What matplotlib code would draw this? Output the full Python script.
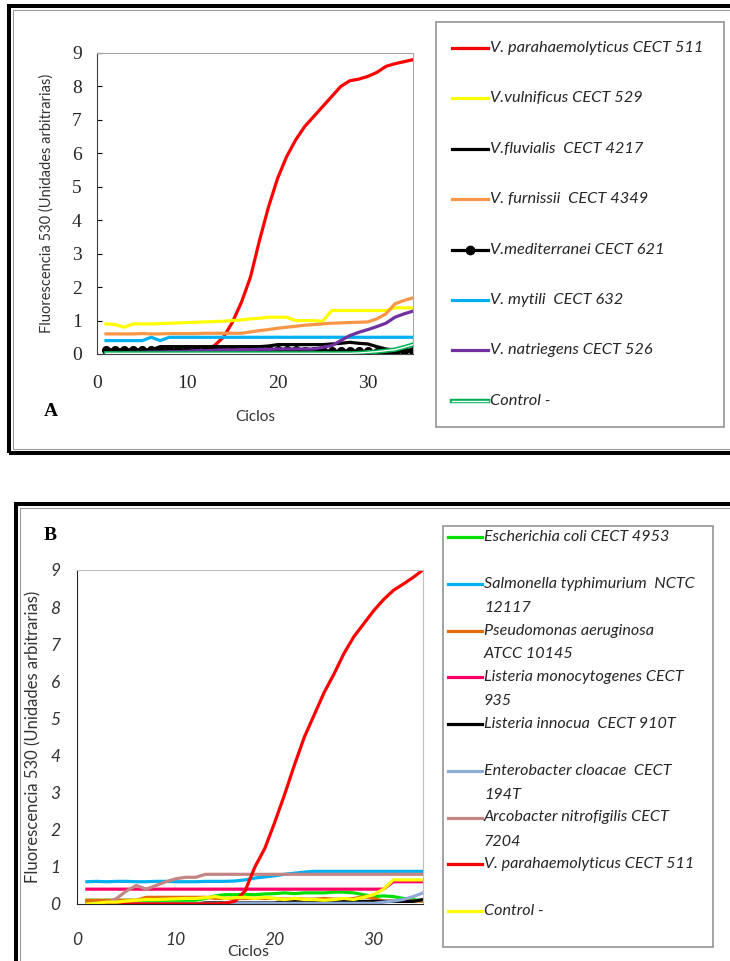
import numpy as np
import matplotlib
matplotlib.use("Agg")
import matplotlib.pyplot as plt
from matplotlib.lines import Line2D
from matplotlib.patches import Rectangle
import matplotlib.patheffects as pe

W, H = 730, 961

# ---------------- data: panel A (Vibrio species) ----------------
ciclos = list(range(1, 36))

a_parahaemolyticus = [0.02, 0.02, 0.02, 0.02, 0.02, 0.03, 0.03, 0.03, 0.04, 0.05, 0.06,
                      0.12, 0.25, 0.5, 0.95, 1.55, 2.3, 3.4, 4.4, 5.25, 5.9, 6.4, 6.8,
                      7.1, 7.4, 7.7, 8.0, 8.17, 8.22, 8.3, 8.42, 8.6, 8.68, 8.74, 8.8]
a_vulnificus = [0.9, 0.88, 0.8, 0.9, 0.9, 0.9, 0.91, 0.92, 0.93, 0.94, 0.95, 0.96, 0.97,
                0.98, 1.0, 1.02, 1.05, 1.07, 1.1, 1.1, 1.1, 1.0, 1.0, 1.0, 0.98, 1.3,
                1.3, 1.3, 1.3, 1.3, 1.3, 1.3, 1.38, 1.38, 1.38]
a_fluvialis = [0.12, 0.12, 0.12, 0.12, 0.12, 0.12, 0.22, 0.22, 0.22, 0.22, 0.22, 0.22,
               0.22, 0.22, 0.22, 0.22, 0.22, 0.22, 0.24, 0.28, 0.28, 0.28, 0.28, 0.28,
               0.28, 0.3, 0.32, 0.35, 0.32, 0.3, 0.22, 0.15, 0.12, 0.12, 0.12]
a_furnissii = [0.6, 0.6, 0.6, 0.6, 0.61, 0.6, 0.6, 0.61, 0.61, 0.61, 0.61, 0.62, 0.62,
               0.62, 0.62, 0.62, 0.66, 0.7, 0.73, 0.77, 0.8, 0.83, 0.86, 0.88, 0.9,
               0.92, 0.93, 0.94, 0.95, 0.96, 1.05, 1.2, 1.5, 1.6, 1.68]
a_mediterranei = [0.12, 0.12, 0.12, 0.12, 0.12, 0.12, 0.12, 0.12, 0.12, 0.12, 0.12,
                  0.12, 0.12, 0.12, 0.12, 0.12, 0.12, 0.12, 0.12, 0.12, 0.12, 0.12,
                  0.1, 0.1, 0.1, 0.08, 0.08, 0.1, 0.08, 0.08, 0.06, 0.06, 0.06, 0.08, 0.1]
a_mytili = [0.4, 0.4, 0.4, 0.4, 0.4, 0.5, 0.4] + [0.5] * 28
a_natriegens = [0.03, 0.04, 0.04, 0.05, 0.05, 0.06, 0.06, 0.07, 0.07, 0.08, 0.1, 0.1,
                0.11, 0.12, 0.12, 0.13, 0.13, 0.14, 0.14, 0.15, 0.15, 0.15, 0.15, 0.15,
                0.2, 0.25, 0.4, 0.55, 0.65, 0.73, 0.82, 0.92, 1.1, 1.2, 1.28]
a_control = [0.02] * 28 + [0.03, 0.05, 0.07, 0.1, 0.13, 0.2, 0.28]

# ---------------- data: panel B (other bacteria) ----------------
b_ecoli = [0.1] * 12 + [0.15, 0.22, 0.25, 0.25, 0.26, 0.25, 0.27, 0.28, 0.3, 0.28, 0.3,
                        0.3, 0.3, 0.32, 0.32, 0.3, 0.25, 0.2, 0.22, 0.2, 0.15, 0.12, 0.08]
b_salmonella = [0.6, 0.61, 0.6, 0.61, 0.61, 0.6, 0.6, 0.61, 0.61, 0.6, 0.6, 0.6, 0.61,
                0.61, 0.61, 0.62, 0.65, 0.7, 0.73, 0.76, 0.8, 0.83, 0.86] + [0.88] * 12
b_pseudomonas = [0.1] * 6 + [0.18] * 7 + [0.15] * 7 + [0.13, 0.15, 0.13, 0.13, 0.15,
                                                      0.13, 0.13, 0.15, 0.2, 0.15, 0.08,
                                                      0.08, 0.08, 0.08, 0.08]
b_monocytogenes = [0.4] * 31 + [0.6] * 4
b_innocua = [0.0] * 12 + [0.03] * 8 + [0.07] * 14 + [0.12]
b_enterobacter = [0.0] * 14 + [0.02] * 16 + [0.05, 0.08, 0.12, 0.2, 0.3]
b_arcobacter = [0.0, 0.0, 0.02, 0.15, 0.35, 0.5, 0.4, 0.5, 0.6, 0.68, 0.72, 0.72] + [0.8] * 23
b_parahaemolyticus = [0.0] * 14 + [0.02, 0.08, 0.35, 1.0, 1.5, 2.2, 2.95, 3.75, 4.5, 5.1,
                                   5.7, 6.2, 6.75, 7.2, 7.55, 7.9, 8.2, 8.45, 8.62, 8.8, 9.0]
b_control = [0.0, 0.02, 0.05, 0.05, 0.08, 0.1, 0.12, 0.12, 0.13, 0.14, 0.15, 0.15, 0.17,
             0.2, 0.15, 0.17, 0.18, 0.15, 0.18, 0.15, 0.12, 0.15, 0.12, 0.12, 0.1, 0.12,
             0.15, 0.12, 0.18, 0.25, 0.4, 0.65, 0.65, 0.65, 0.65]

labels_a = ["V. parahaemolyticus CECT 511", "V.vulnificus CECT 529",
            "V.fluvialis  CECT 4217", "V. furnissii  CECT 4349",
            "V.mediterranei CECT 621", "V. mytili  CECT 632",
            "V. natriegens CECT 526", "Control -"]
labels_b = ["Escherichia coli CECT 4953", "Salmonella typhimurium  NCTC\n12117",
            "Pseudomonas aeruginosa\nATCC 10145", "Listeria monocytogenes CECT\n935",
            "Listeria innocua  CECT 910T", "Enterobacter cloacae  CECT\n194T",
            "Arcobacter nitrofigilis CECT\n7204", "V. parahaemolyticus CECT 511",
            "Control -"]

x_ticks = [0, 10, 20, 30]
y_ticks = list(range(0, 10))

SANS = ["Lato", "DejaVu Sans"]
SERIF = ["Liberation Serif", "DejaVu Serif"]


def fx(px):
    return px / W


def fy(py):
    return 1 - py / H


fig = plt.figure(figsize=(W / 100, H / 100), dpi=100)
fig.patch.set_facecolor("white")

# ---------------- panel frames ----------------
fig.add_artist(Rectangle((fx(9), fy(453)), fx(760), (453 - 6) / H, transform=fig.transFigure,
                         fill=False, lw=2.9, ec="black"))
fig.add_artist(Rectangle((fx(13), fy(449)), fx(760), (449 - 10) / H, transform=fig.transFigure,
                         fill=False, lw=0.8, ec="#9a9a9a"))
fig.add_artist(Rectangle((fx(16), fy(1000)), fx(760), (1000 - 504) / H, transform=fig.transFigure,
                         fill=False, lw=2.9, ec="black"))
fig.add_artist(Rectangle((fx(20), fy(1000)), fx(760), (1000 - 508) / H, transform=fig.transFigure,
                         fill=False, lw=0.8, ec="#9a9a9a"))

LW = 2.3

# ---------------- panel A ----------------
axA = fig.add_axes([fx(97), fy(354), (413 - 97) / W, (354 - 53) / H])
outline = [pe.Stroke(linewidth=3.2, foreground="#00b050"), pe.Normal()]
lines_a = []
lines_a += axA.plot(ciclos, a_parahaemolyticus, color="#ff0000", lw=LW)
lines_a += axA.plot(ciclos, a_vulnificus, color="#ffff00", lw=LW)
lines_a += axA.plot(ciclos, a_fluvialis, color="black", lw=LW)
lines_a += axA.plot(ciclos, a_furnissii, color="#f79646", lw=LW)
lines_a += axA.plot(ciclos, a_mediterranei, color="black", lw=LW, marker="o", ms=5.5)
lines_a += axA.plot(ciclos, a_mytili, color="#00b0f0", lw=LW)
lines_a += axA.plot(ciclos, a_natriegens, color="#7030a0", lw=LW)
lines_a += axA.plot(ciclos, a_control, color="white", lw=1.0, path_effects=outline)

axA.set_xlim(0, 35)
axA.set_ylim(0, 9)
serif_tick = dict(fontfamily=SERIF, fontsize=14, color="#262626")
axA.set_xticks(x_ticks, [str(v) for v in x_ticks], **serif_tick)
axA.set_yticks(y_ticks, [str(v) for v in y_ticks], **serif_tick)
axA.tick_params(axis="x", length=0, pad=15)
axA.tick_params(axis="y", direction="in", length=3.5, width=0.8, pad=11)
for s in ("top", "right"):
    axA.spines[s].set_color("#a6a6a6")
for s in ("left", "bottom"):
    axA.spines[s].set_color("#404040")
axA.set_ylabel("Fluorescencia 530 (Unidades arbitrarias)", family=SANS, fontsize=10.5,
               color="#333333", va="center")
axA.yaxis.set_label_coords((47 - 97) / 316, 0.5)
axA.set_xlabel("Ciclos", family=SANS, fontsize=11, color="#333333", va="center")
axA.xaxis.set_label_coords(0.5, (354 - 417) / 301)
fig.text(fx(51), fy(412), "A", family=SERIF, fontsize=14, weight="bold", ha="center", va="center")

# legend A
fig.add_artist(Rectangle((fx(436), fy(427)), (724 - 436) / W, (427 - 22) / H,
                         transform=fig.transFigure, fill=False, lw=1.1, ec="#8c8c8c"))
for i, (ln, lab) in enumerate(zip(lines_a, labels_a)):
    yy = fy(48 + i * 50.4)
    h = Line2D([fx(452), fx(488)], [yy, yy], transform=fig.transFigure,
               color=ln.get_color(), lw=ln.get_linewidth(), path_effects=ln.get_path_effects())
    fig.add_artist(h)
    if ln.get_marker() not in (None, "None", ""):
        fig.add_artist(Line2D([fx(470)], [yy], transform=fig.transFigure, ls="none",
                              marker=ln.get_marker(), ms=ln.get_markersize() + 0.5,
                              color=ln.get_color()))
    fig.text(fx(490), yy, lab, family=SANS, style="italic", fontsize=11.8,
             color="#262626", ha="left", va="center")

# ---------------- panel B ----------------
axB = fig.add_axes([fx(77), fy(904), (423 - 77) / W, (904 - 570) / H])
colors_b = ["#00e000", "#00b0f0", "#e46c0a", "#ff0066", "black", "#8eaad6",
            "#c38684", "#ff0000", "#ffff00"]
series_b = [b_ecoli, b_salmonella, b_pseudomonas, b_monocytogenes, b_innocua,
            b_enterobacter, b_arcobacter, b_parahaemolyticus, b_control]
lines_b = []
for vals, col in zip(series_b, colors_b):
    lines_b += axB.plot(ciclos, vals, color=col, lw=LW)

axB.set_xlim(0, 35)
axB.set_ylim(0, 9)
sans_tick = dict(fontfamily=SANS, fontstyle="italic", fontsize=12.5, color="#333333")
axB.set_xticks(x_ticks, [str(v) for v in x_ticks], **sans_tick)
axB.set_yticks(y_ticks, [str(v) for v in y_ticks], **sans_tick)
axB.tick_params(axis="x", length=0, pad=20)
axB.tick_params(axis="y", length=0, pad=12)
for s in ("top", "right"):
    axB.spines[s].set_color("#bfbfbf")
for s in ("left", "bottom"):
    axB.spines[s].set_color("#262626")
axB.set_ylabel("Fluorescencia 530 (Unidades arbitrarias)", family=SANS, fontsize=12,
               color="#333333", va="center")
axB.yaxis.set_label_coords((33 - 77) / 346, 0.5)
axB.set_xlabel("Ciclos", family=SANS, fontsize=11.5, color="#333333", va="center")
axB.xaxis.set_label_coords((248 - 77) / 346, (904 - 952) / 334)
fig.text(fx(50), fy(535), "B", family=SERIF, fontsize=14, weight="bold", ha="center", va="center")

# legend B
fig.add_artist(Rectangle((fx(443), fy(947)), (713 - 443) / W, (947 - 526) / H,
                         transform=fig.transFigure, fill=False, lw=1.1, ec="#8c8c8c"))
for i, (ln, lab) in enumerate(zip(lines_b, labels_b)):
    y0 = 537 + i * 46.75
    fig.add_artist(Line2D([fx(448), fx(482)], [fy(y0), fy(y0)], transform=fig.transFigure,
                          color=ln.get_color(), lw=ln.get_linewidth()))
    for k, part in enumerate(lab.split("\n")):
        fig.text(fx(484), fy(y0 + k * 24), part, family=SANS, style="italic", fontsize=11.6,
                 color="#262626", ha="left", va="center")

fig.savefig("out.png", dpi=100)
